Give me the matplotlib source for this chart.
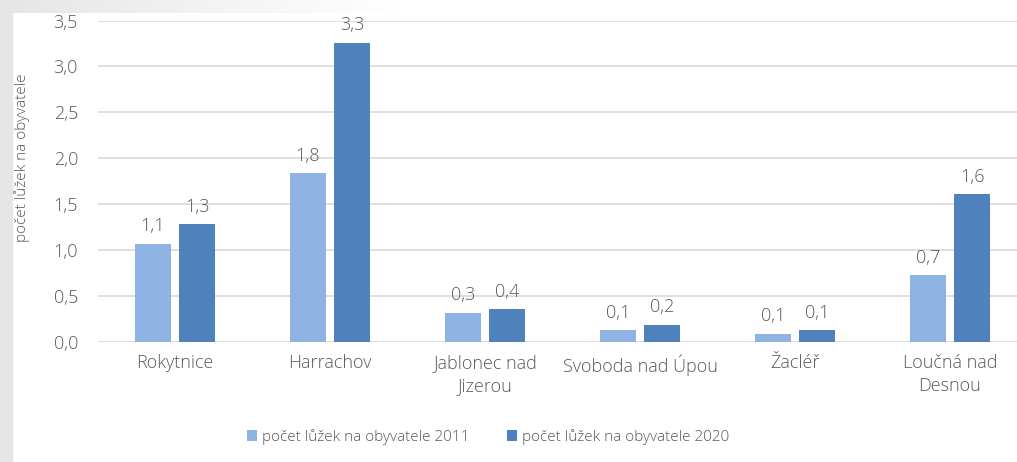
import matplotlib.pyplot as plt
import numpy as np
from matplotlib.patches import Rectangle

plt.rcParams['font.family'] = ['Open Sans', 'DejaVu Sans']
plt.rcParams['font.weight'] = 'light'

# data
categories = ['Rokytnice', 'Harrachov', 'Jablonec nad\nJizerou', 'Svoboda nad Úpou', 'Žacléř', 'Loučná nad\nDesnou']
beds_2011 = [1.07, 1.84, 0.32, 0.13, 0.09, 0.73]
beds_2020 = [1.28, 3.26, 0.36, 0.19, 0.13, 1.61]
series_names = ['počet lůžek na obyvatele 2011', 'počet lůžek na obyvatele 2020']
y_ticks = [0.0, 0.5, 1.0, 1.5, 2.0, 2.5, 3.0, 3.5]

c_light = '#8FB4E3'
c_dark = '#4F81BD'
c_text = '#595959'
c_grid = '#D9D9D9'
fs = 13

W, H = 1017, 462
fig = plt.figure(figsize=(W / 100, H / 100), dpi=100)

# grey frame on left / top of the screenshot
fig.patches.append(Rectangle((0, 0), 12 / W, 1, transform=fig.transFigure, color='#E6E6E6', zorder=-5))
grad = np.linspace(0.90, 1.0, 256).reshape(1, -1)
bg = fig.add_axes([0, 1 - 13 / H, 400 / W, 13 / H], zorder=-4)
bg.imshow(np.dstack([grad, grad, grad]), aspect='auto', extent=[0, 1, 0, 1])
bg.axis('off')

ax = fig.add_axes([97.5 / W, 120 / H, 930 / W, 321.5 / H])
x = np.arange(len(categories))
bw = 0.226
off = 0.142
b1 = ax.bar(x - off, beds_2011, bw, color=c_light, zorder=3, label=series_names[0])
b2 = ax.bar(x + off, beds_2020, bw, color=c_dark, zorder=3, label=series_names[1])

for bars, vals in [(b1, beds_2011), (b2, beds_2020)]:
    for rect, v in zip(bars, vals):
        ax.annotate(f'{v:.1f}'.replace('.', ','), (rect.get_x() + rect.get_width() / 2, v),
                    xytext=(0, 6), textcoords='offset points', ha='center', va='bottom',
                    fontsize=fs, color=c_text)

ax.set_xlim(-0.5, len(categories) - 0.5)
ax.set_ylim(0, 3.5)
ax.set_yticks(y_ticks)
ax.set_yticklabels([f'{t:.1f}'.replace('.', ',') for t in y_ticks])
ax.set_xticks(x)
ax.set_xticklabels(categories, linespacing=1.3)
ax.tick_params(axis='y', length=0, pad=14, labelsize=fs, labelcolor=c_text)
ax.tick_params(axis='x', length=0, pad=9, labelsize=13, labelcolor=c_text)
ax.grid(axis='y', color=c_grid, linewidth=1.2, zorder=0)
for s in ax.spines.values():
    s.set_visible(False)

fig.text(22 / W, 1 - 158 / H, 'počet lůžek na obyvatele', rotation=90, ha='center', va='center',
         fontsize=11, color=c_text)

leg = fig.legend(handles=[b1, b2], loc='center', bbox_to_anchor=(488 / W, 1 - 437 / H), ncol=2,
                 frameon=False, fontsize=11, handlelength=0.65, handleheight=0.65,
                 handletextpad=0.3, columnspacing=2.5)
for t in leg.get_texts():
    t.set_color(c_text)

fig.savefig('out.png', dpi=100)
